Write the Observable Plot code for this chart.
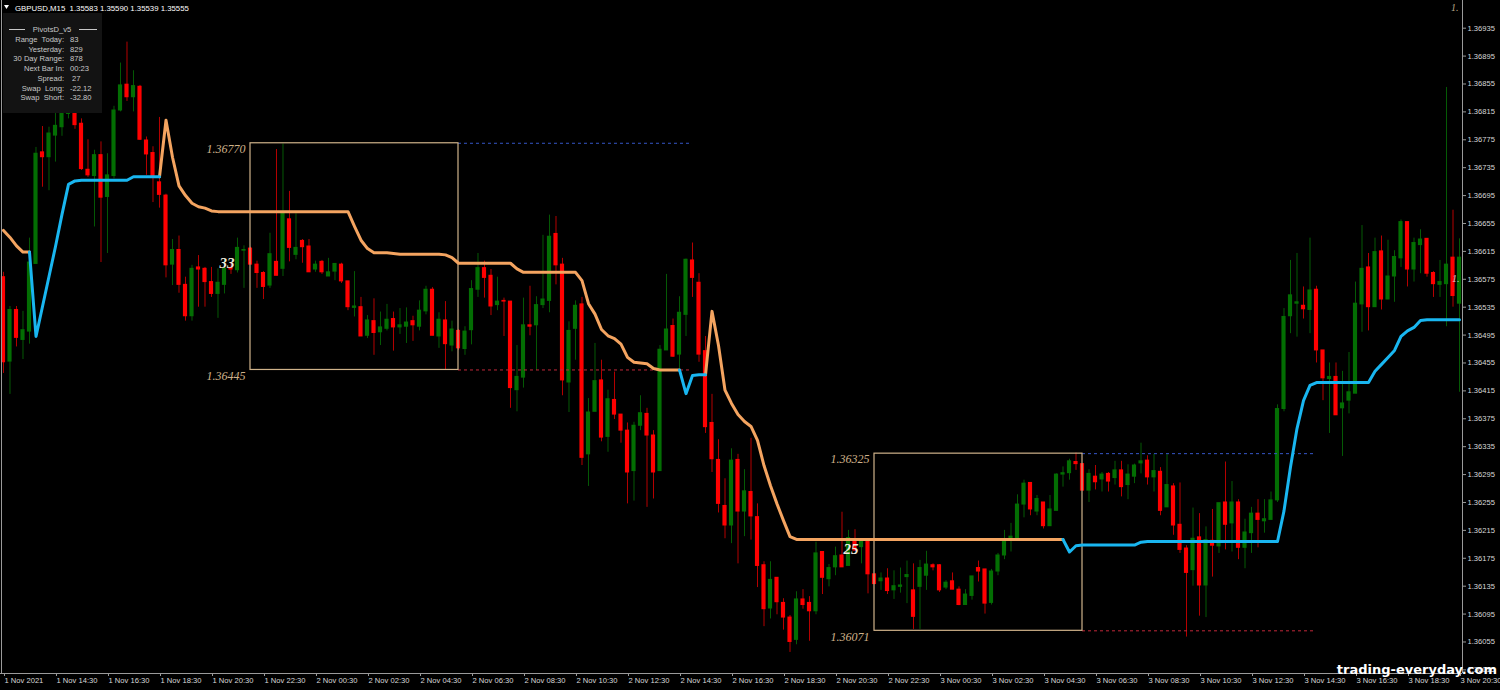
<!DOCTYPE html>
<html><head><meta charset="utf-8">
<script src="https://cdn.jsdelivr.net/npm/d3@7"></script>
<script src="https://cdn.jsdelivr.net/npm/@observablehq/plot@0.6"></script>
<style>
html,body{margin:0;padding:0;background:#000;}
#chart{width:1500px;height:690px;overflow:hidden;}
</style></head><body><div id="chart"></div>
<script>
// ---- DATA (GBPUSD M15, bars from 1 Nov 12:30) ----
const opens = [
1.36578,1.36457,1.36531,1.36488,1.36500,1.36597,1.36757,1.36750,1.36781,1.36793,
1.36812,1.36835,1.36798,1.36732,1.36723,1.36753,1.36693,1.36723,1.36817,1.36854,
1.36836,1.36851,1.36774,1.36756,1.36714,1.36695,1.36596,1.36617,1.36567,1.36522,
1.36592,1.36590,1.36571,1.36554,1.36567,1.36591,1.36588,1.36616,1.36619,1.36596,
1.36584,1.36566,1.36600,1.36590,1.36661,1.36610,1.36630,1.36622,1.36589,1.36600,
1.36579,1.36586,1.36596,1.36572,1.36534,1.36535,1.36494,1.36515,1.36499,1.36504,
1.36518,1.36506,1.36507,1.36515,1.36507,1.36529,1.36560,1.36493,1.36516,1.36480,
1.36501,1.36475,1.36502,1.36560,1.36591,1.36580,1.36538,1.36544,1.36543,1.36416,
1.36434,1.36509,1.36509,1.36538,1.36544,1.36640,1.36596,1.36427,1.36504,1.36539,
1.36324,1.36385,1.36430,1.36349,1.36402,1.36381,1.36358,1.36300,1.36365,1.36382,
1.36351,1.36300,1.36473,1.36508,1.36467,1.36524,1.36602,1.36570,1.36472,1.36369,
1.36316,1.36250,1.36222,1.36316,1.36242,1.36270,1.36234,1.36165,1.36103,1.36147,
1.36111,1.36090,1.36058,1.36116,1.36111,1.36099,1.36184,1.36145,1.36162,1.36179,
1.36164,1.36200,1.36191,1.36200,1.36152,1.36142,1.36146,1.36129,1.36134,1.36148,
1.36129,1.36134,1.36150,1.36165,1.36165,1.36133,1.36142,1.36130,1.36108,1.36121,
1.36161,1.36159,1.36111,1.36156,1.36179,1.36202,1.36204,1.36252,1.36283,1.36242,
1.36255,1.36221,1.36243,1.36295,1.36297,1.36313,1.36310,1.36272,1.36292,1.36288,
1.36296,1.36290,1.36301,1.36280,1.36292,1.36311,1.36315,1.36291,1.36299,1.36248,
1.36278,1.36223,1.36189,1.36158,1.36205,1.36136,1.36200,1.36192,1.36255,1.36225,
1.36255,1.36190,1.36211,1.36239,1.36228,1.36230,1.36258,1.36389,1.36522,1.36540,
1.36537,1.36531,1.36560,1.36473,1.36432,1.36435,1.36390,1.36401,1.36411,1.36539,
1.36592,1.36535,1.36615,1.36546,1.36579,1.36605,1.36657,1.36589,1.36624,1.36633,
1.36584,1.36567,1.36568,1.36606,1.36540];
const highs = [
1.36585,1.36536,1.36536,1.36529,1.36634,1.36764,1.36794,1.36793,1.36813,1.36835,
1.36850,1.36845,1.36805,1.36775,1.36760,1.36772,1.36755,1.36823,1.36885,1.36915,
1.36874,1.36853,1.36779,1.36765,1.36807,1.36697,1.36632,1.36637,1.36578,1.36595,
1.36609,1.36592,1.36592,1.36590,1.36604,1.36598,1.36634,1.36623,1.36621,1.36601,
1.36586,1.36641,1.36761,1.36769,1.36701,1.36669,1.36632,1.36632,1.36601,1.36602,
1.36605,1.36597,1.36598,1.36572,1.36586,1.36549,1.36523,1.36547,1.36528,1.36539,
1.36528,1.36533,1.36534,1.36522,1.36544,1.36565,1.36563,1.36527,1.36543,1.36515,
1.36503,1.36507,1.36573,1.36612,1.36601,1.36589,1.36578,1.36548,1.36543,1.36480,
1.36548,1.36565,1.36550,1.36638,1.36667,1.36665,1.36605,1.36514,1.36544,1.36549,
1.36404,1.36483,1.36459,1.36416,1.36442,1.36381,1.36369,1.36370,1.36408,1.36390,
1.36358,1.36480,1.36582,1.36518,1.36550,1.36604,1.36627,1.36583,1.36493,1.36410,
1.36345,1.36289,1.36332,1.36324,1.36302,1.36347,1.36253,1.36170,1.36170,1.36147,
1.36117,1.36093,1.36127,1.36130,1.36120,1.36198,1.36184,1.36166,1.36191,1.36241,
1.36215,1.36216,1.36203,1.36203,1.36152,1.36154,1.36160,1.36157,1.36161,1.36171,
1.36167,1.36172,1.36185,1.36167,1.36166,1.36143,1.36154,1.36134,1.36130,1.36149,
1.36171,1.36159,1.36159,1.36182,1.36215,1.36225,1.36266,1.36287,1.36283,1.36265,
1.36255,1.36265,1.36296,1.36306,1.36317,1.36326,1.36310,1.36302,1.36308,1.36298,
1.36298,1.36314,1.36314,1.36309,1.36310,1.36340,1.36322,1.36324,1.36305,1.36324,
1.36282,1.36283,1.36193,1.36247,1.36239,1.36220,1.36245,1.36254,1.36313,1.36285,
1.36259,1.36231,1.36248,1.36259,1.36259,1.36270,1.36395,1.36533,1.36602,1.36612,
1.36564,1.36634,1.36565,1.36473,1.36455,1.36455,1.36443,1.36470,1.36571,1.36652,
1.36612,1.36634,1.36637,1.36631,1.36616,1.36660,1.36657,1.36634,1.36646,1.36633,
1.36586,1.36602,1.36850,1.36674,1.36633];
const lows = [
1.36440,1.36410,1.36478,1.36460,1.36482,1.36597,1.36707,1.36702,1.36743,1.36780,
1.36805,1.36790,1.36731,1.36721,1.36650,1.36599,1.36612,1.36719,1.36815,1.36830,
1.36815,1.36774,1.36724,1.36685,1.36677,1.36577,1.36566,1.36555,1.36515,1.36515,
1.36535,1.36535,1.36549,1.36519,1.36554,1.36582,1.36584,1.36562,1.36596,1.36562,
1.36546,1.36562,1.36580,1.36579,1.36600,1.36603,1.36598,1.36585,1.36585,1.36582,
1.36579,1.36573,1.36569,1.36530,1.36521,1.36493,1.36490,1.36466,1.36480,1.36501,
1.36472,1.36496,1.36483,1.36486,1.36501,1.36524,1.36494,1.36476,1.36445,1.36471,
1.36473,1.36466,1.36481,1.36549,1.36548,1.36523,1.36530,1.36493,1.36390,1.36385,
1.36419,1.36494,1.36444,1.36533,1.36527,1.36567,1.36408,1.36384,1.36459,1.36308,
1.36278,1.36385,1.36342,1.36327,1.36374,1.36340,1.36253,1.36257,1.36358,1.36248,
1.36260,1.36300,1.36473,1.36463,1.36447,1.36493,1.36549,1.36456,1.36354,1.36298,
1.36240,1.36203,1.36196,1.36167,1.36206,1.36201,1.36133,1.36077,1.36088,1.36094,
1.36072,1.36040,1.36051,1.36102,1.36056,1.36094,1.36123,1.36134,1.36150,1.36162,
1.36164,1.36186,1.36167,1.36124,1.36138,1.36129,1.36123,1.36116,1.36125,1.36110,
1.36073,1.36073,1.36129,1.36157,1.36126,1.36130,1.36130,1.36107,1.36108,1.36115,
1.36141,1.36095,1.36108,1.36150,1.36173,1.36184,1.36204,1.36233,1.36236,1.36236,
1.36217,1.36221,1.36243,1.36277,1.36287,1.36301,1.36272,1.36255,1.36273,1.36270,
1.36270,1.36280,1.36263,1.36259,1.36282,1.36296,1.36280,1.36270,1.36236,1.36248,
1.36208,1.36182,1.36062,1.36135,1.36092,1.36090,1.36148,1.36182,1.36187,1.36184,
1.36173,1.36160,1.36182,1.36190,1.36211,1.36230,1.36255,1.36385,1.36497,1.36492,
1.36518,1.36497,1.36455,1.36401,1.36354,1.36380,1.36321,1.36382,1.36411,1.36499,
1.36501,1.36535,1.36531,1.36546,1.36542,1.36592,1.36564,1.36571,1.36583,1.36578,
1.36549,1.36549,1.36507,1.36535,1.36413];
const closes = [
1.36456,1.36531,1.36491,1.36502,1.36599,1.36755,1.36750,1.36784,1.36795,1.36812,
1.36835,1.36796,1.36733,1.36724,1.36753,1.36692,1.36724,1.36817,1.36853,1.36836,
1.36852,1.36775,1.36754,1.36723,1.36696,1.36595,1.36617,1.36567,1.36522,1.36590,
1.36589,1.36571,1.36554,1.36570,1.36590,1.36589,1.36620,1.36617,1.36596,1.36584,
1.36564,1.36611,1.36580,1.36669,1.36620,1.36620,1.36621,1.36585,1.36596,1.36585,
1.36585,1.36597,1.36572,1.36535,1.36536,1.36493,1.36516,1.36498,1.36506,1.36517,
1.36506,1.36509,1.36513,1.36509,1.36530,1.36560,1.36494,1.36517,1.36482,1.36503,
1.36476,1.36500,1.36561,1.36591,1.36577,1.36536,1.36543,1.36543,1.36419,1.36435,
1.36509,1.36507,1.36538,1.36546,1.36636,1.36595,1.36430,1.36501,1.36537,1.36319,
1.36384,1.36429,1.36348,1.36403,1.36381,1.36358,1.36298,1.36365,1.36383,1.36351,
1.36298,1.36474,1.36503,1.36464,1.36527,1.36603,1.36577,1.36467,1.36363,1.36317,
1.36253,1.36222,1.36315,1.36242,1.36271,1.36235,1.36164,1.36102,1.36144,1.36112,
1.36090,1.36055,1.36116,1.36108,1.36099,1.36182,1.36147,1.36161,1.36178,1.36162,
1.36204,1.36186,1.36200,1.36152,1.36138,1.36146,1.36128,1.36135,1.36136,1.36151,
1.36091,1.36161,1.36166,1.36162,1.36129,1.36140,1.36130,1.36108,1.36123,1.36149,
1.36156,1.36110,1.36156,1.36179,1.36202,1.36206,1.36252,1.36282,1.36245,1.36260,
1.36221,1.36245,1.36295,1.36297,1.36314,1.36310,1.36272,1.36296,1.36284,1.36295,
1.36285,1.36301,1.36277,1.36295,1.36308,1.36314,1.36291,1.36300,1.36243,1.36280,
1.36222,1.36187,1.36154,1.36203,1.36136,1.36201,1.36193,1.36254,1.36223,1.36255,
1.36190,1.36212,1.36239,1.36230,1.36231,1.36258,1.36389,1.36521,1.36552,1.36542,
1.36532,1.36559,1.36473,1.36433,1.36435,1.36380,1.36397,1.36413,1.36540,1.36590,
1.36535,1.36614,1.36546,1.36579,1.36607,1.36657,1.36589,1.36627,1.36632,1.36583,
1.36568,1.36571,1.36596,1.36551,1.36606];

// trailing pivot line (one value per bar)
const pivotLine = [
1.36645,1.36635,1.36623,1.36614,1.36614,1.36493,1.36536,1.36579,1.36622,1.36668,
1.36711,1.36716,1.36717,1.36717,1.36717,1.36717,1.36717,1.36717,1.36717,1.36717,
1.36722,1.36722,1.36722,1.36722,1.36722,1.36803,1.36750,1.36709,1.36695,1.36684,
1.36679,1.36677,1.36673,1.36672,1.36672,1.36672,1.36672,1.36672,1.36672,1.36672,
1.36672,1.36672,1.36672,1.36672,1.36672,1.36672,1.36672,1.36672,1.36672,1.36672,
1.36672,1.36672,1.36672,1.36672,1.36651,1.36631,1.36619,1.36613,1.36613,1.36613,
1.36612,1.36611,1.36611,1.36611,1.36611,1.36611,1.36611,1.36611,1.36610,1.36606,
1.36598,1.36598,1.36598,1.36598,1.36598,1.36598,1.36598,1.36598,1.36598,1.36590,
1.36585,1.36585,1.36585,1.36585,1.36585,1.36585,1.36585,1.36585,1.36585,1.36573,
1.36540,1.36525,1.36503,1.36494,1.36490,1.36482,1.36463,1.36456,1.36455,1.36454,
1.36447,1.36445,1.36445,1.36445,1.36445,1.36411,1.36437,1.36438,1.36438,1.36529,
1.36480,1.36416,1.36397,1.36381,1.36371,1.36364,1.36344,1.36308,1.36279,1.36253,
1.36229,1.36206,1.36202,1.36202,1.36202,1.36202,1.36202,1.36202,1.36202,1.36202,
1.36202,1.36202,1.36202,1.36202,1.36202,1.36202,1.36202,1.36202,1.36202,1.36202,
1.36202,1.36202,1.36202,1.36202,1.36202,1.36202,1.36202,1.36202,1.36202,1.36202,
1.36202,1.36202,1.36202,1.36202,1.36202,1.36202,1.36202,1.36202,1.36202,1.36202,
1.36202,1.36202,1.36202,1.36202,1.36184,1.36193,1.36194,1.36194,1.36194,1.36194,
1.36194,1.36194,1.36194,1.36194,1.36194,1.36198,1.36199,1.36199,1.36199,1.36199,
1.36199,1.36199,1.36199,1.36199,1.36199,1.36199,1.36199,1.36199,1.36199,1.36199,
1.36199,1.36199,1.36199,1.36199,1.36199,1.36199,1.36199,1.36243,1.36306,1.36361,
1.36401,1.36423,1.36427,1.36427,1.36427,1.36427,1.36427,1.36427,1.36427,1.36427,
1.36427,1.36443,1.36453,1.36463,1.36473,1.36493,1.36501,1.36506,1.36516,1.36517,
1.36517,1.36517,1.36517,1.36517,1.36517];
const orangeSegments = [[0, 4], [24, 104], [108, 163]];
const blueSegments = [[4, 24], [104, 108], [163, 224]];

// session boxes (bar indices and prices)
const boxStart = [38, 134];
const boxEnd = [70, 166];
const extEnd = [106, 202];
const boxHigh = [1.36770, 1.36325];
const boxLow = [1.36445, 1.36071];
const boxRange = ["33", "25"];

// axes
const priceTicks = [1.36015,1.36055,1.36095,1.36135,1.36175,1.36215,1.36255,1.36295,1.36335,1.36375,
  1.36415,1.36455,1.36495,1.36535,1.36575,1.36615,1.36655,1.36695,1.36735,1.36775,1.36815,1.36855,1.36895,1.36935];
const timeTickBars = [0,8,16,24,32,40,48,56,64,72,80,88,96,104,112,120,128,136,144,152,160,168,176,184,192,200,208,216,224];
const timeLabels = ["1 Nov 2021","1 Nov 14:30","1 Nov 16:30","1 Nov 18:30","1 Nov 20:30","1 Nov 22:30",
  "2 Nov 00:30","2 Nov 02:30","2 Nov 04:30","2 Nov 06:30","2 Nov 08:30","2 Nov 10:30","2 Nov 12:30","2 Nov 14:30",
  "2 Nov 16:30","2 Nov 18:30","2 Nov 20:30","2 Nov 22:30","3 Nov 00:30","3 Nov 02:30","3 Nov 04:30","3 Nov 06:30",
  "3 Nov 08:30","3 Nov 10:30","3 Nov 12:30","3 Nov 14:30","3 Nov 16:30","3 Nov 18:30","3 Nov 20:30"];

const headerText = "GBPUSD,M15  1.35583 1.35590 1.35539 1.35555";
const infoLabels = ["Range  Today:", "Yesterday:", "30 Day Range:", "Next Bar In:", "Spread:", "Swap  Long:", "Swap  Short:"];
const infoValues = ["83", "829", "878", "00:23", " 27", "-22.12", "-32.80"];

// ---- BUILD ----
const xDomain = [-0.4615, 224.4615];
const yDomain = [1.360098, 1.369747];
const bodyUp = "#036e03", bodyDown = "#ff0000", wickUp = "#055a05", wickDown = "#b50000";
const boxColor = "#cfb28a";

const bars = opens.map((o, i) => ({i, open: o, high: highs[i], low: lows[i], close: closes[i], up: closes[i] >= o}));
const inSeg = (segs, i) => segs.some(([a, b]) => i >= a && i <= b);
const orangeData = pivotLine.map((v, i) => ({i, v: inSeg(orangeSegments, i) ? v : NaN}));
const blueData = pivotLine.map((v, i) => ({i, v: inSeg(blueSegments, i) ? v : NaN}));
const boxes = boxStart.map((s, k) => ({s, e: boxEnd[k], ext: extEnd[k], hi: boxHigh[k], lo: boxLow[k],
  mid: (boxHigh[k] + boxLow[k]) / 2, range: boxRange[k]}));
const labelOf = new Map(timeTickBars.map((b, k) => [b, timeLabels[k]]));

const chart = Plot.plot({
  width: 1500, height: 690,
  marginTop: 0, marginRight: 38, marginBottom: 17, marginLeft: 0,
  style: {background: "#000", color: "#d8d8d8", fontFamily: "'Liberation Sans', Arial, sans-serif", fontSize: "7.6px"},
  x: {type: "linear", domain: xDomain},
  y: {type: "linear", domain: yDomain},
  color: {type: "identity"},
  marks: [
    Plot.ruleX(bars, {x: "i", y1: "low", y2: "high", stroke: d => d.up ? wickUp : wickDown, strokeWidth: 1}),
    Plot.rect(bars, {x1: d => d.i - 0.32, x2: d => d.i + 0.32, y1: "open", y2: "close",
      fill: d => d.up ? bodyUp : bodyDown, insetTop: -0.5, insetBottom: -0.5}),
    Plot.ruleY(boxes, {y: "hi", x1: "e", x2: "ext", stroke: "#3556c8", strokeDasharray: "3,3", strokeWidth: 1}),
    Plot.ruleY(boxes, {y: "lo", x1: "e", x2: "ext", stroke: "#c0283a", strokeDasharray: "3,3", strokeWidth: 1}),
    Plot.rect(boxes, {x1: "s", x2: "e", y1: "lo", y2: "hi", fill: "none", stroke: boxColor, strokeWidth: 1.2}),
    Plot.line(orangeData, {x: "i", y: "v", stroke: "#f4a460", strokeWidth: 3, strokeLinejoin: "round"}),
    Plot.line(blueData, {x: "i", y: "v", stroke: "#19b6f0", strokeWidth: 3, strokeLinejoin: "round"}),
    Plot.text(boxes, {x: "s", y: "hi", text: d => d.hi.toFixed(5), textAnchor: "end", dx: -5, dy: 5.5,
      fill: boxColor, fontStyle: "italic", fontSize: 12, fontFamily: "'Liberation Serif', serif"}),
    Plot.text(boxes, {x: "s", y: "lo", text: d => d.lo.toFixed(5), textAnchor: "end", dx: -5, dy: 6,
      fill: boxColor, fontStyle: "italic", fontSize: 12, fontFamily: "'Liberation Serif', serif"}),
    Plot.text(boxes, {x: "s", y: "mid", text: "range", textAnchor: "end", dx: -16, dy: 7,
      fill: "#efe9dc", fontStyle: "italic", fontWeight: "bold", fontSize: 15, fontFamily: "'Liberation Serif', serif"}),
    Plot.ruleX([xDomain[1]], {stroke: "#9a9a9a"}),
    Plot.ruleX([xDomain[0]], {stroke: "#9a9a9a", dx: 1}),
    Plot.ruleY([yDomain[0]], {stroke: "#9a9a9a"}),
    Plot.axisY({anchor: "right", ticks: priceTicks, tickFormat: d => d.toFixed(5), tickSize: 3, tickPadding: 2,
      stroke: "#9a9a9a", fill: "#d8d8d8", fontSize: 7.6}),
    Plot.axisX({ticks: timeTickBars, tickFormat: d => labelOf.get(d), textAnchor: "start", dx: 1,
      tickSize: 3, tickPadding: 1, stroke: "#9a9a9a", fill: "#d8d8d8", fontSize: 7.6})
  ]
});
document.getElementById("chart").appendChild(chart);

// ---- overlays (terminal labels) ----
const svg = d3.select(chart);
const g = svg.append("g").attr("font-family", "'Liberation Sans', Arial, sans-serif").attr("text-anchor", "start");
g.append("rect").attr("x", 3).attr("y", 13).attr("width", 99).attr("height", 100).attr("fill", "#131313");
g.append("path").attr("d", "M4,5 L9,5 L6.5,9 Z").attr("fill", "#fff");
g.append("text").attr("x", 15).attr("y", 11).attr("text-anchor", "start").attr("fill", "#fff").attr("font-size", 7.8).style("white-space", "pre").text(headerText);
g.append("line").attr("x1", 9).attr("x2", 25).attr("y1", 29.5).attr("y2", 29.5).attr("stroke", "#c8c8c8");
g.append("line").attr("x1", 79).attr("x2", 97).attr("y1", 29.5).attr("y2", 29.5).attr("stroke", "#c8c8c8");
g.append("text").attr("x", 52).attr("y", 32).attr("text-anchor", "middle").attr("fill", "#c8c8c8").attr("font-size", 7.6).text("PivotsD_v5");
infoLabels.forEach((t, k) => {
  const y = 42 + k * 9.7;
  g.append("text").attr("x", 64).attr("y", y).attr("text-anchor", "end").attr("fill", "#c8c8c8").attr("font-size", 7.6).style("white-space", "pre").text(t);
  g.append("text").attr("x", 70).attr("y", y).attr("text-anchor", "start").attr("fill", "#c8c8c8").attr("font-size", 7.6).style("white-space", "pre").text(infoValues[k]);
});
g.append("text").attr("x", 1451).attr("y", 11).attr("text-anchor", "start").attr("fill", "#b9a888").attr("font-size", 10).attr("font-style", "italic").attr("font-family", "'Liberation Serif', serif").text("1.");
g.append("text").attr("x", 1452).attr("y", 282).attr("text-anchor", "start").attr("fill", "#c8c8c8").attr("font-size", 10).attr("font-style", "italic").attr("font-family", "'Liberation Serif', serif").text("1.");
g.append("text").attr("x", 1497).attr("y", 674).attr("text-anchor", "end").attr("fill", "#fff").attr("font-size", 13).attr("font-weight", "bold").attr("font-family", "'DejaVu Sans', sans-serif").text("trading-everyday.com");
</script>
</body></html>
